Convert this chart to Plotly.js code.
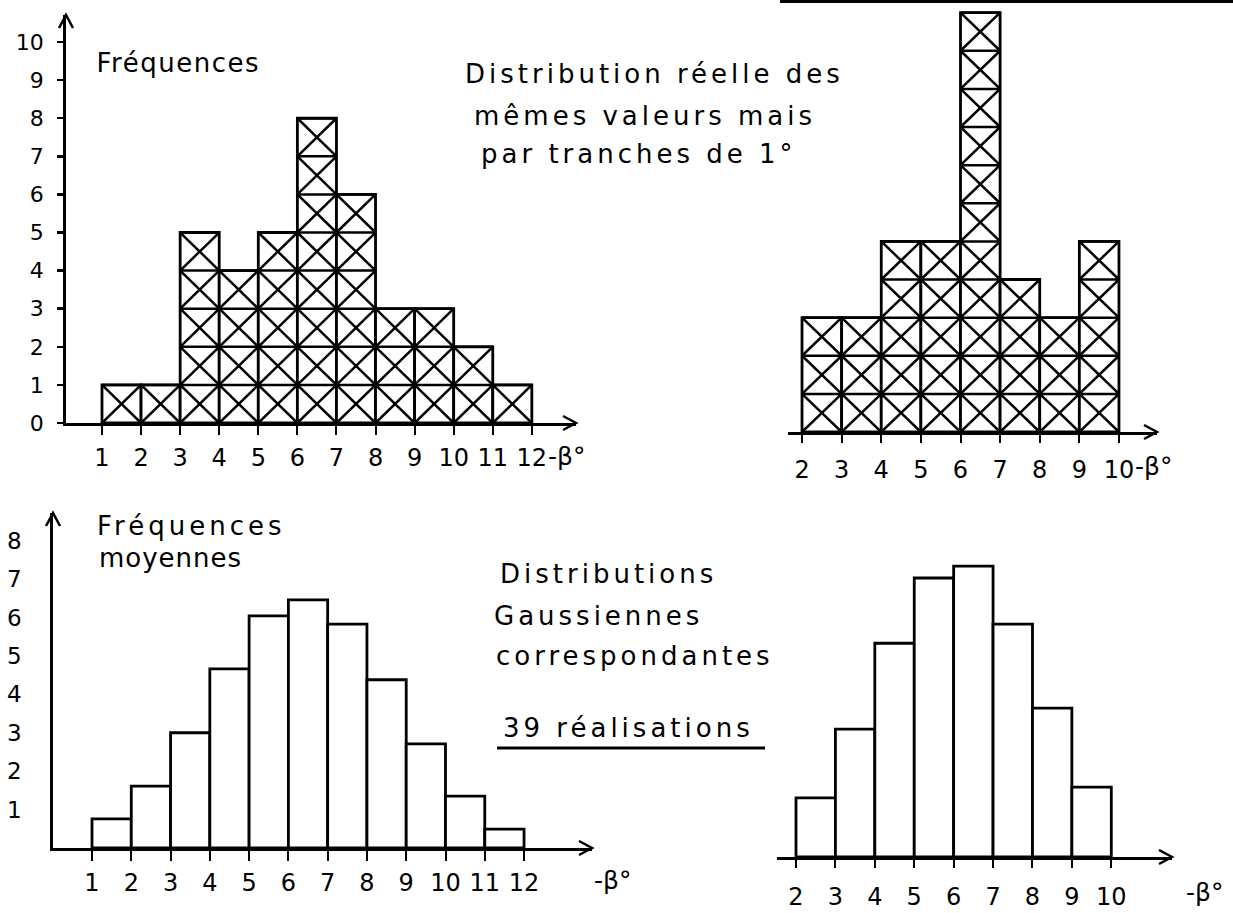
<!DOCTYPE html>
<html>
<head>
<meta charset="utf-8">
<script src="https://cdn.plot.ly/plotly-3.0.1.min.js"></script>
<style>
html, body { margin: 0; padding: 0; background: #ffffff; }
#chart { width: 1233px; height: 913px; }
.annotation .annotation-text { letter-spacing: 4px; }
.annotation[data-index="0"] .annotation-text,
.annotation[data-index="1"] .annotation-text,
.annotation[data-index="2"] .annotation-text,
.annotation[data-index="3"] .annotation-text { letter-spacing: 0px; }
.annotation[data-index="4"] .annotation-text { letter-spacing: 1.5px; }
.annotation[data-index="9"] .annotation-text { letter-spacing: 1px; }
</style>
</head>
<body>
<div id="chart"></div>
<script>
// ---------- DATA ----------
// Top-left: observed frequencies per 1° class (left edge of class)
const tlEdges  = [1, 2, 3, 4, 5, 6, 7, 8, 9, 10, 11];
const tlCounts = [1, 1, 5, 4, 5, 8, 6, 3, 3, 2, 1];
// Top-right: real distribution of the same values, by classes of 1°
const trEdges  = [2, 3, 4, 5, 6, 7, 8, 9];
const trCounts = [3, 3, 5, 5, 11, 4, 3, 5];
// Bottom-left: corresponding Gaussian (mean frequencies)
const blEdges  = [1, 2, 3, 4, 5, 6, 7, 8, 9, 10, 11];
const blFreq   = [0.76, 1.61, 3.0, 4.66, 6.04, 6.46, 5.83, 4.38, 2.71, 1.35, 0.49];
// Bottom-right: corresponding Gaussian
const brEdges  = [2, 3, 4, 5, 6, 7, 8, 9];
const brFreq   = [1.54, 3.33, 5.57, 7.27, 7.58, 6.07, 3.88, 1.82];

// Tick values / labels
const tlXTicks = [1, 2, 3, 4, 5, 6, 7, 8, 9, 10, 11, 12];
const tlYTicks = [0, 1, 2, 3, 4, 5, 6, 7, 8, 9, 10];
const trXTicks = [2, 3, 4, 5, 6, 7, 8, 9, 10];
const blXTicks = [1, 2, 3, 4, 5, 6, 7, 8, 9, 10, 11, 12];
const blYTicks = [1, 2, 3, 4, 5, 6, 7, 8];
const brXTicks = [2, 3, 4, 5, 6, 7, 8, 9, 10];

// Texts
const txtFreq      = 'Fréquences';
const txtMoy       = 'moyennes';
const txtReal1     = 'Distribution réelle des';
const txtReal2     = 'mêmes valeurs mais';
const txtReal3     = 'par tranches de 1°';
const txtGauss1    = 'Distributions';
const txtGauss2    = 'Gaussiennes';
const txtGauss3    = 'correspondantes';
const txtReal      = '39 réalisations';
const txtBeta      = '-β°';

// ---------- HELPERS ----------
const W = 1233, H = 913;
const fx = p => p / W;
const fy = p => 1 - p / H;
const FONT = 'DejaVu Sans';

function hatch(edges, counts, xa, ya) {
  const x = [], y = [];
  edges.forEach((L, i) => {
    for (let k = 0; k < counts[i]; k++) {
      x.push(L, L + 1, null, L, L + 1, null, L, L + 1, null);
      y.push(k, k + 1, null, k + 1, k, null, k + 1, k + 1, null);
    }
  });
  return { type: 'scatter', mode: 'lines', x: x, y: y, xaxis: xa, yaxis: ya,
           line: { color: '#000', width: 2.5 }, hoverinfo: 'skip', connectgaps: false };
}
function bars(edges, vals, xa, ya) {
  return { type: 'bar', x: edges, y: vals, width: 1, offset: 0, xaxis: xa, yaxis: ya,
           marker: { color: '#ffffff', line: { color: '#000', width: 2.8 } }, hoverinfo: 'skip' };
}
function xAxis(dom, rng, anchor, ticks, ticklen, standoff) {
  return { domain: dom, range: rng, anchor: anchor, tickmode: 'array', tickvals: ticks,
           ticktext: ticks.map(String), ticks: 'outside', ticklen: ticklen, tickwidth: 2,
           tickcolor: '#000', showline: true, linewidth: 2.8, linecolor: '#000',
           showgrid: false, zeroline: false, fixedrange: true, automargin: false,
           ticklabelstandoff: standoff, tickfont: { family: FONT, size: 24, color: '#000' } };
}
function hiddenY(dom, rng, anchor) {
  return { domain: dom, range: rng, anchor: anchor, visible: false, showgrid: false,
           zeroline: false, fixedrange: true };
}
function chevronUp(x, y) {
  return { type: 'path', xref: 'paper', yref: 'paper',
           path: 'M' + fx(x - 7) + ',' + fy(y + 13) + ' L' + fx(x) + ',' + fy(y) + ' L' + fx(x + 7) + ',' + fy(y + 13),
           line: { color: '#000', width: 2.5 } };
}
function chevronRight(x, y) {
  return { type: 'path', xref: 'paper', yref: 'paper',
           path: 'M' + fx(x - 13) + ',' + fy(y - 7) + ' L' + fx(x) + ',' + fy(y) + ' L' + fx(x - 13) + ',' + fy(y + 7),
           line: { color: '#000', width: 2.5 } };
}
function txt(t, cx, cy, size) {
  return { text: t, xref: 'paper', yref: 'paper', x: fx(cx), y: fy(cy), xanchor: 'center',
           yanchor: 'middle', showarrow: false, font: { family: FONT, size: size, color: '#000' } };
}

// ---------- TRACES ----------
const data = [
  bars(tlEdges, tlCounts, 'x', 'y'),
  hatch(tlEdges, tlCounts, 'x', 'y'),
  bars(trEdges, trCounts, 'x2', 'y2'),
  hatch(trEdges, trCounts, 'x2', 'y2'),
  bars(blEdges, blFreq, 'x3', 'y3'),
  bars(brEdges, brFreq, 'x4', 'y4')
];

// ---------- LAYOUT ----------
const layout = {
  width: W, height: H,
  margin: { l: 0, r: 0, t: 0, b: 0, pad: 0 },
  paper_bgcolor: '#ffffff', plot_bgcolor: 'rgba(0,0,0,0)',
  showlegend: false, hovermode: false,
  font: { family: FONT, color: '#000' },

  // top-left
  xaxis: xAxis([fx(66), fx(576)], [0.079, 13.13], 'y', tlXTicks, 9, 2),
  yaxis: { domain: [fy(423), fy(15)], range: [0, 10.71], anchor: 'x', tickmode: 'array',
           tickvals: tlYTicks, ticktext: tlYTicks.map(String), ticks: 'outside', ticklen: 6,
           tickwidth: 2.5, tickcolor: '#000', showline: true, linewidth: 2.8, linecolor: '#000',
           showgrid: false, zeroline: false, fixedrange: true, automargin: false,
           ticklabelstandoff: 9, tickfont: { family: FONT, size: 22, color: '#000' } },

  // top-right
  xaxis2: xAxis([fx(788), fx(1157)], [1.646, 10.96], 'y2', trXTicks, 8, 6),
  yaxis2: hiddenY([fy(432), fy(5)], [0, 11.2], 'x2'),

  // bottom-left
  xaxis3: xAxis([fx(53), fx(592)], [0.007, 13.73], 'y3', blXTicks, 10, 1),
  yaxis3: { domain: [fy(848), fy(513)], range: [0, 8.72], anchor: 'x3', tickmode: 'array',
            tickvals: blYTicks, ticktext: blYTicks.map(String), ticks: '',
            showline: true, linewidth: 2.8, linecolor: '#000',
            showgrid: false, zeroline: false, fixedrange: true, automargin: false,
            ticklabelstandoff: 24, tickfont: { family: FONT, size: 23, color: '#000' } },

  // bottom-right
  xaxis4: xAxis([fx(777), fx(1172)], [1.518, 11.54], 'y4', brXTicks, 8, 8),
  yaxis4: hiddenY([fy(857), fy(540)], [0, 8.26], 'x4'),

  shapes: [
    chevronUp(66, 15),
    chevronRight(576, 423),
    chevronRight(1157, 432),
    chevronUp(53, 513),
    chevronRight(592, 848),
    chevronRight(1172, 857),
    // underline of "39 réalisations"
    { type: 'line', xref: 'paper', yref: 'paper', x0: fx(497), x1: fx(765), y0: fy(748), y1: fy(748),
      line: { color: '#000', width: 3 } },
    // scan border at the top right
    { type: 'line', xref: 'paper', yref: 'paper', x0: fx(780), x1: 1, y0: fy(1.5), y1: fy(1.5),
      line: { color: '#000', width: 3 } }
  ],

  annotations: [
    txt(txtBeta, 566, 456, 25),
    txt(txtBeta, 1153, 466, 25),
    txt(txtBeta, 612, 880, 25),
    txt(txtBeta, 1204, 892, 25),
    txt(txtFreq, 178, 63, 26),
    txt(txtReal1, 654, 74, 26),
    txt(txtReal2, 645, 116, 26),
    txt(txtReal3, 639, 154, 26),
    txt(txtFreq, 191, 526, 26),
    txt(txtMoy, 170, 558, 26),
    txt(txtGauss1, 608, 574, 26),
    txt(txtGauss2, 598, 616, 26),
    txt(txtGauss3, 635, 656, 26),
    txt(txtReal, 628, 728, 26)
  ]
};

Plotly.newPlot('chart', data, layout, { staticPlot: true, displayModeBar: false, responsive: false });
</script>
</body>
</html>
